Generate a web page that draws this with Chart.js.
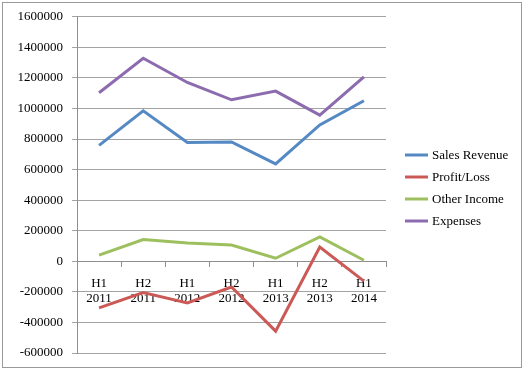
<!DOCTYPE html>
<html>
<head>
<meta charset="utf-8">
<script src="https://cdn.jsdelivr.net/npm/chart.js@4/dist/chart.umd.min.js"></script>
<style>
  html, body { margin: 0; padding: 0; background: #fff; }
  #wrap { width: 526px; height: 372px; }
</style>
</head>
<body>
<div id="wrap"><canvas id="myLineChart" width="526" height="372"></canvas></div>
<script>
var periods = [['H1', '2011'], ['H2', '2011'], ['H1', '2012'], ['H2', '2012'], ['H1', '2013'], ['H2', '2013'], ['H1', '2014']];
var salesRevenue = [759000, 985000, 778000, 781000, 637000, 892000, 1051000];
var profitLoss = [-305000, -204000, -272000, -168000, -457000, 93000, -130000];
var otherIncome = [41000, 142000, 120000, 106000, 20000, 159000, 7000];
var expenses = [1103000, 1329000, 1170000, 1057000, 1114000, 957000, 1207000];

var font = { family: "'Liberation Serif', 'DejaVu Serif', serif", size: 13 };

// frame round the whole picture
var framePlugin = {
    id: 'frame',
    beforeDraw: function (chart) {
        var ctx = chart.ctx;
        ctx.save();
        ctx.strokeStyle = '#9a9a9a';
        ctx.lineWidth = 1;
        ctx.strokeRect(2.5, 2.5, chart.width - 7, chart.height - 7);
        ctx.restore();
    }
};

// legend to the right of the plot, line sample + label
var sideLegend = {
    id: 'sideLegend',
    afterDraw: function (chart) {
        var ctx = chart.ctx;
        var sets = chart.data.datasets;
        var x0 = chart.chartArea.right + 19;
        var step = 22;
        var y0 = chart.height / 2 - step * (sets.length - 1) / 2 + 2;
        ctx.save();
        ctx.font = font.size + 'px ' + font.family;
        ctx.textBaseline = 'middle';
        ctx.fillStyle = '#000';
        sets.forEach(function (ds, i) {
            var y = y0 + i * step;
            ctx.strokeStyle = ds.borderColor;
            ctx.lineWidth = 3;
            ctx.beginPath();
            ctx.moveTo(x0, y);
            ctx.lineTo(x0 + 23, y);
            ctx.stroke();
            ctx.fillText(ds.label, x0 + 27, y + 1);
        });
        ctx.restore();
    }
};

var ctx = document.getElementById('myLineChart').getContext('2d');
var myLineChart = new Chart(ctx, {
    type: 'line',
    data: {
        labels: periods,
        datasets: [{
            label: 'Sales Revenue',
            data: salesRevenue,
            borderColor: '#5489c3',
            backgroundColor: '#5489c3'
        }, {
            label: 'Profit/Loss',
            data: profitLoss,
            borderColor: '#cb5a57',
            backgroundColor: '#cb5a57'
        }, {
            label: 'Other Income',
            data: otherIncome,
            borderColor: '#9dbf5e',
            backgroundColor: '#9dbf5e'
        }, {
            label: 'Expenses',
            data: expenses,
            borderColor: '#8c6baf',
            backgroundColor: '#8c6baf'
        }]
    },
    options: {
        animation: false,
        responsive: false,
        devicePixelRatio: 1,
        layout: {
            padding: { left: 17, top: 16, right: 140, bottom: 19 }
        },
        elements: {
            line: { borderWidth: 3, tension: 0 },
            point: { radius: 0 }
        },
        plugins: {
            legend: { display: false },
            tooltip: { enabled: false }
        },
        scales: {
            x: {
                position: { y: 0 },
                offset: true,
                grid: {
                    offset: true,
                    drawOnChartArea: false,
                    drawTicks: true,
                    tickLength: 5,
                    color: '#8f8f8f'
                },
                border: { display: true, color: '#8f8f8f' },
                ticks: {
                    font: font,
                    color: '#000',
                    padding: 9,
                    maxRotation: 0,
                    autoSkip: false
                }
            },
            y: {
                min: -600000,
                max: 1600000,
                afterFit: function (scale) { scale.width = 60; },
                grid: {
                    color: '#a3a3a3',
                    tickLength: 5
                },
                border: { display: true, color: '#8f8f8f' },
                ticks: {
                    stepSize: 200000,
                    font: font,
                    color: '#000',
                    padding: 9,
                    callback: function (v) { return String(v); }
                }
            }
        }
    },
    plugins: [framePlugin, sideLegend]
});
</script>
</body>
</html>
